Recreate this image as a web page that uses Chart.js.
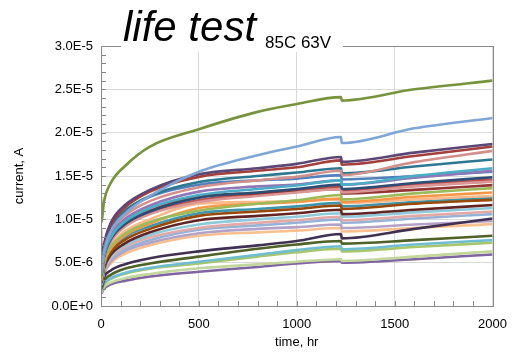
<!DOCTYPE html>
<html>
<head>
<meta charset="utf-8">
<script src="https://cdn.jsdelivr.net/npm/chart.js@4.4.0/dist/chart.umd.min.js"></script>
<style>
    html, body { margin: 0; padding: 0; background: #fff; }
    #wrap { width: 518px; height: 352px; }
</style>
</head>
<body>
<div id="wrap"><canvas id="lifeChart" width="518" height="352"></canvas></div>
<script>
// leakage current vs. time, 85C / 63V life test (values in uA)
const hours = [0, 2, 15, 50, 120, 250, 500, 800, 1000, 1226, 1230, 1600, 2000];

const cap01 = [12.6, 9.6, 12.0, 14.2, 16.1, 18.4, 20.4, 22.4, 23.3, 24.1, 23.7, 25.0, 26.0];
const cap02 = [5.5, 4.0, 6.3, 8.6, 10.6, 12.7, 15.5, 17.4, 18.4, 19.5, 18.8, 20.5, 21.7];
const cap03 = [7.3, 4.5, 7.0, 9.6, 11.6, 13.4, 15.2, 15.9, 16.4, 17.2, 16.65, 17.7, 18.7];
const cap04 = [8.8, 4.3, 6.8, 9.3, 11.3, 13.2, 14.9, 15.6, 16.0, 16.8, 16.3, 17.3, 18.4];
const cap05 = [6.0, 4.0, 6.3, 8.6, 10.4, 12.1, 13.7, 14.5, 14.9, 15.6, 15.1, 16.6, 17.9];
const cap06 = [6.5, 4.1, 6.6, 9.0, 10.9, 12.7, 14.3, 15.0, 15.4, 15.9, 15.3, 16.1, 16.9];
const cap07 = [5.0, 3.6, 5.8, 7.9, 9.7, 11.3, 12.8, 13.5, 13.9, 14.5, 14.0, 15.0, 15.9];
const cap08 = [5.3, 3.8, 6.0, 8.2, 10.0, 11.6, 13.2, 13.8, 14.0, 14.5, 14.0, 14.8, 15.6];
const cap09 = [6.2, 4.2, 6.6, 9.0, 10.9, 12.6, 14.0, 14.5, 14.7, 15.1, 14.6, 15.0, 15.5];
const cap10 = [4.8, 3.5, 5.6, 7.7, 9.4, 10.9, 12.5, 13.1, 13.5, 14.0, 13.5, 14.2, 14.85];
const cap11 = [4.6, 3.4, 5.4, 7.4, 9.1, 10.6, 12.0, 12.7, 13.1, 13.5, 13.1, 13.8, 14.35];
const cap12 = [5.5, 3.6, 5.8, 7.8, 9.5, 11.0, 12.6, 13.0, 13.2, 13.5, 13.0, 13.4, 13.95];
const cap13 = [4.2, 3.1, 5.0, 6.8, 8.3, 9.7, 11.0, 11.8, 12.2, 12.8, 12.3, 13.0, 13.6];
const cap14 = [4.0, 3.0, 4.9, 6.6, 8.1, 9.5, 11.3, 11.8, 12.0, 12.4, 12.0, 12.6, 13.1];
const cap15 = [4.4, 3.2, 5.2, 7.0, 8.6, 10.0, 11.8, 12.0, 12.1, 12.3, 11.9, 12.3, 12.7];
const cap16 = [3.8, 2.8, 4.5, 6.2, 7.6, 8.9, 10.4, 10.9, 11.2, 11.6, 11.2, 11.8, 12.25];
const cap17 = [3.6, 2.7, 4.3, 5.9, 7.2, 8.5, 9.9, 10.4, 10.7, 11.1, 10.6, 11.1, 11.65];
const cap18 = [3.5, 2.6, 4.2, 5.7, 7.0, 8.2, 9.4, 10.0, 10.3, 10.7, 10.3, 10.8, 11.3];
const cap19 = [3.3, 2.5, 4.0, 5.5, 6.8, 7.9, 9.0, 9.6, 9.9, 10.3, 9.9, 10.4, 10.9];
const cap20 = [3.2, 2.4, 3.9, 5.3, 6.5, 7.6, 8.8, 9.3, 9.6, 10.0, 9.6, 10.1, 10.6];
const cap21 = [3.6, 2.2, 3.3, 4.1, 4.8, 5.5, 6.3, 7.0, 7.5, 8.3, 7.8, 8.9, 10.1];
const cap22 = [3.1, 2.3, 3.7, 5.1, 6.3, 7.3, 8.4, 8.9, 9.1, 9.4, 9.0, 9.4, 9.8];
const cap23 = [3.0, 2.2, 3.6, 4.9, 6.0, 7.0, 8.1, 8.5, 8.7, 9.0, 8.6, 9.0, 9.45];
const cap24 = [2.8, 2.0, 2.9, 3.6, 4.3, 4.9, 5.7, 6.6, 7.1, 7.5, 7.2, 7.6, 8.1];
const cap25 = [2.5, 1.9, 2.6, 3.2, 3.8, 4.4, 5.1, 5.9, 6.45, 6.9, 6.55, 7.1, 7.6];
const cap26 = [2.4, 1.8, 2.5, 3.1, 3.7, 4.3, 4.9, 5.7, 6.2, 6.6, 6.3, 6.8, 7.3];
const cap27 = [2.2, 1.6, 2.2, 2.7, 3.2, 3.7, 4.35, 4.8, 5.1, 5.4, 5.2, 5.7, 6.3];
const cap28 = [2.0, 1.5, 2.0, 2.5, 2.9, 3.4, 3.95, 4.5, 4.9, 5.2, 5.0, 5.4, 5.95];
const cap29 = [4.1, 2.9, 4.7, 6.4, 7.9, 9.2, 10.7, 11.2, 11.5, 11.9, 11.5, 12.0, 12.5];
const cap30 = [4.7, 3.4, 5.5, 7.5, 9.2, 10.7, 12.2, 12.9, 13.3, 13.8, 13.3, 14.0, 14.6];

const allCaps = [cap01, cap02, cap03, cap04, cap05, cap06, cap07, cap08, cap09, cap10,
    cap11, cap12, cap13, cap14, cap15, cap16, cap17, cap18, cap19, cap20,
    cap21, cap22, cap23, cap24, cap25, cap26, cap27, cap28, cap29, cap30];

const lineColors = ['#77933C', '#7FA6D6', '#5C4776', '#A43F3C', '#D38F8C', '#2D7890', '#4BACC6', '#9177B5', '#4F81BD', '#2C4D75',
    '#D99694', '#943634', '#9BBB59', '#F79646', '#F9B98A', '#984807', '#632523', '#8FCADB', '#E3A9A7', '#95B3D7',
    '#403152', '#B3A2C7', '#FAC090', '#4F6228', '#6FBDD1', '#A9C66A', '#C3D69B', '#8064A2', '#3D96AE', '#C0504D'];

const yTicks = [0, 5, 10, 15, 20, 25, 30];
const xTicks = [0, 500, 1000, 1500, 2000];
const yMinorStep = 1;
const xMinorStep = 100;

const fontFamily = '"Liberation Sans", Arial, sans-serif';

// frame, inside minor ticks and the boxed title over the top border
const frameAndTitle = {
    id: 'frameAndTitle',
    afterDraw(chart) {
        const { ctx, chartArea: a, scales: { x, y } } = chart;
        ctx.save();
        ctx.strokeStyle = '#8a8a8a';
        ctx.lineWidth = 1;
        ctx.strokeRect(Math.round(a.left) + 0.5, Math.round(a.top) + 0.5, Math.round(a.right - a.left), Math.round(a.bottom - a.top));

        ctx.beginPath();
        for (let v = y.min; v <= y.max; v += yMinorStep) {
            const py = Math.round(y.getPixelForValue(v)) + 0.5;
            ctx.moveTo(a.left, py); ctx.lineTo(a.left + 5, py);
        }
        for (let v = x.min; v <= x.max; v += xMinorStep) {
            const px = Math.round(x.getPixelForValue(v)) + 0.5;
            ctx.moveTo(px, a.bottom); ctx.lineTo(px, a.bottom - 5);
        }
        ctx.stroke();

        ctx.fillStyle = '#fff';
        ctx.fillRect(121, 38, 222, 14);
        ctx.fillStyle = '#000';
        ctx.textBaseline = 'alphabetic';
        ctx.textAlign = 'left';
        ctx.font = 'italic 42px ' + fontFamily;
        ctx.fillText('life test', 123, 41);
        ctx.font = '17px ' + fontFamily;
        ctx.fillText('85C 63V', 265, 48);
        ctx.restore();
    }
};

const ctx = document.getElementById('lifeChart').getContext('2d');
window.lifeChart = new Chart(ctx, {
    type: 'line',
    data: {
        datasets: allCaps.map((vals, i) => ({
            data: vals.map((v, j) => ({ x: hours[j], y: v })),
            borderColor: lineColors[i],
            backgroundColor: lineColors[i],
            borderWidth: 2.6,
            pointRadius: 0,
            cubicInterpolationMode: 'monotone',
            fill: false
        }))
    },
    options: {
        responsive: false,
        devicePixelRatio: 1,
        animation: false,
        layout: { padding: { top: 46, right: 25, left: 0, bottom: 0 } },
        plugins: { legend: { display: false }, tooltip: { enabled: false } },
        scales: {
            x: {
                type: 'linear', min: 0, max: 2000,
                afterBuildTicks: s => { s.ticks = xTicks.map(v => ({ value: v })); },
                afterFit: s => { s.height = 46; },
                grid: { color: '#d9d9d9', drawTicks: false },
                border: { color: '#8a8a8a' },
                ticks: { color: '#000', padding: 11, maxRotation: 0, font: { family: fontFamily, size: 13 }, callback: v => String(v) },
                title: { display: true, text: 'time, hr', color: '#000', padding: { top: 0, bottom: 2 }, font: { family: fontFamily, size: 13 } }
            },
            y: {
                min: 0, max: 30,
                afterBuildTicks: s => { s.ticks = yTicks.map(v => ({ value: v })); },
                afterFit: s => { s.width = 101; },
                grid: { color: '#d9d9d9', drawTicks: false },
                border: { color: '#8a8a8a' },
                ticks: {
                    color: '#000', padding: 8, font: { family: fontFamily, size: 13 },
                    callback: v => (v * 1e-6).toExponential(1).toUpperCase()
                },
                title: { display: true, text: 'current, A', color: '#000', padding: { top: 12, bottom: 0 }, font: { family: fontFamily, size: 13 } }
            }
        }
    },
    plugins: [frameAndTitle]
});
</script>
</body>
</html>
